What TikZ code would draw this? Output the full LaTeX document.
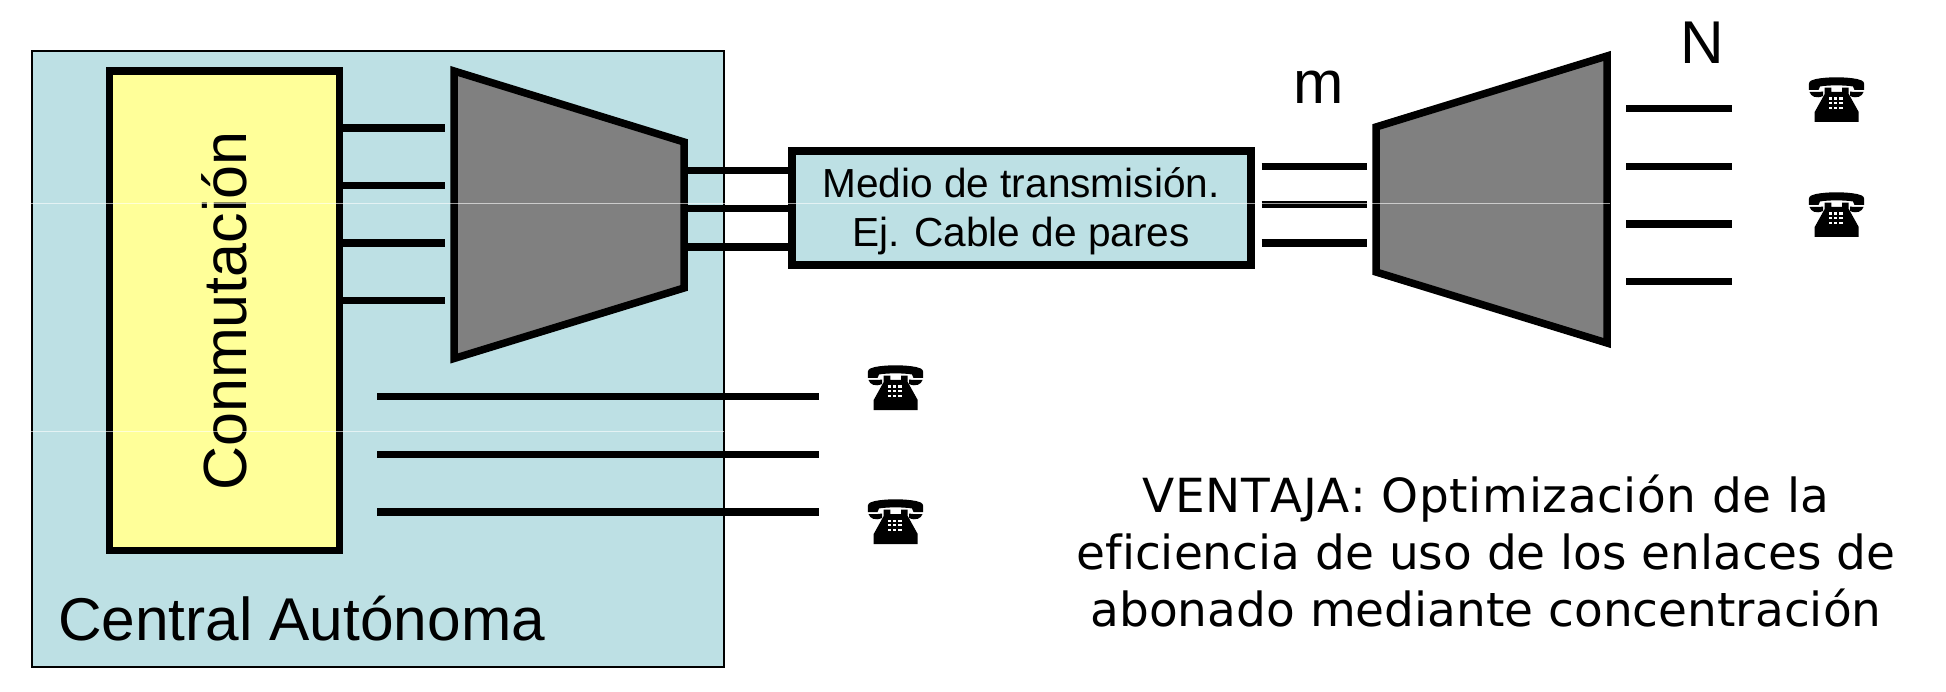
\documentclass[tikz,border=0pt]{standalone}
\usepackage{fontspec}
\setmainfont{Liberation Sans}
\newfontfamily\verdanalike[Ligatures=NoCommon,Kerning=Off]{DejaVu Sans}
\newfontfamily\verdanawide[Ligatures=NoCommon,Kerning=Off,LetterSpace=1.3]{DejaVu Sans}
\usetikzlibrary{calc}
\definecolor{paleblue}{HTML}{BDE0E4}
\definecolor{paleyellow}{HTML}{FFFF99}
\definecolor{concgray}{HTML}{808080}
\tikzset{
  x=1pt,y=-1pt,
  wire/.style={line width=7.5pt,black},
  conc/.style={line width=7.5pt,draw=black,fill=concgray,miter limit=10},
  seam/.style={line width=0.9pt,white,opacity=.6},
  labelA/.style={font=\fontsize{60.4}{60}\selectfont,inner sep=0pt,text=black},
  phone/.pic={
    \fill[black] (0.8,13) -- (0.8,7) .. controls (1,3.5) and (5,2.7) .. (8,2)
      .. controls (20,-0.3) and (37,-0.3) .. (49,2) .. controls (52,2.7) and (56,3.5) .. (56.2,7)
      -- (56.2,13) -- (46.5,13) -- (45,9.5) .. controls (37,8) and (20,8) .. (12,9.5) -- (10.5,13) -- cycle;
    \fill[black] (1.5,15) .. controls (3,19.5) and (8,22) .. (15,19) -- (15,14.5) -- (11,15) -- cycle;
    \fill[black] (55.5,15) .. controls (54,19.5) and (49,22) .. (42,19) -- (42,14.5) -- (46,15) -- cycle;
    \fill[black] (6.7,45) -- (6.7,35) -- (16.7,17) -- (16.7,10.7) -- (23.3,10.7) -- (23.3,15)
      -- (34,15) -- (34,10.7) -- (40.7,10.7) -- (40.7,17) -- (50.7,35) -- (50.7,45) -- cycle;
    \foreach \kx in {21,26.2,31.4} \foreach \ky in {20.5,25,30}
      \fill[white] (\kx,\ky) rectangle ++(3.2,2.4);
  }
}
\begin{document}
\begin{tikzpicture}
\useasboundingbox (0,0) rectangle (1946,692);
% central box
\node[draw=black,line width=2pt,fill=paleblue,minimum width=692pt,minimum height=615pt,inner sep=0pt,anchor=north west] (central) at (31,50.5) {};
\node[labelA,anchor=base west] (centralname) at (58,640) {Central Autónoma};
% switching block
\node[draw=black,line width=7.5pt,fill=paleyellow,minimum width=230pt,minimum height=479pt,inner sep=0pt,anchor=north west] (sw) at (105.5,67.5) {};
\node[labelA,rotate=90,anchor=base,font=\fontsize{61}{61}\selectfont] (swname) at (246,311) {Conmutación};
% coordinates of the concentrators
\coordinate (la) at (454,71);
\coordinate (lb) at (684,142);
\coordinate (lc) at (684,288);
\coordinate (ld) at (454,358.5);
\coordinate (ra) at (1376,127);
\coordinate (rb) at (1607,56);
\coordinate (rc) at (1607,343);
\coordinate (rd) at (1376,272);
% wires switch -> left concentrator
\foreach \n/\yy in {1/128,2/185.3,3/243.2,4/300.5}{
  \coordinate (a\n) at (445,\yy);
  \draw[wire] (sw.east |- a\n) -- (a\n);
}
% medium
\node[draw=black,line width=7.5pt,fill=paleblue,minimum width=459pt,minimum height=114pt,inner sep=0pt,anchor=north west] (med) at (788,147.5) {};
\node[font=\fontsize{40.6}{49}\selectfont,align=center,inner sep=0pt] (medname) at (1021,211.5) {Medio de transmisión.\\Ej. Cable de pares};
% wires left concentrator -> medium
\foreach \n/\yy in {1/170.3,2/208.3,3/247.2}{
  \coordinate (b\n) at (684,\yy);
  \draw[wire] (b\n) -- (med.west |- b\n);
}
% wires after medium
\foreach \n/\yy in {1/166.5,2/204.3,3/243.2}{
  \coordinate (c\n) at (1261.5,\yy);
  \coordinate (d\n) at (1367,\yy);
  \draw[wire] (c\n) -- (d\n);
}
% concentrators
\draw[conc] (la) -- (lb) -- (lc) -- (ld) -- cycle;
\draw[conc] (ra) -- (rb) -- (rc) -- (rd) -- cycle;
% subscriber wires right
\foreach \n/\yy in {1/108.6,2/166.5,3/224,4/281.5}{
  \coordinate (e\n) at (1626,\yy);
  \coordinate (f\n) at (1732,\yy);
  \draw[wire] (e\n) -- (f\n);
}
% subscriber wires bottom
\foreach \n/\yy in {1/396.7,2/454.5,3/512}{
  \coordinate (g\n) at (377,\yy);
  \coordinate (h\n) at (819,\yy);
  \draw[wire] (g\n) -- (h\n);
}
% labels
\node[labelA,anchor=base] (mlabel) at (1319,104) {m};
\node[labelA,anchor=base] (nlabel) at (1702,64) {N};
% phones
\pic at (867,365) {phone};
\pic at (867,499) {phone};
\pic at (1808,77) {phone};
\pic at (1808,192) {phone};
% advantage text
\node[font=\verdanalike\fontsize{47}{57}\selectfont,align=center,inner sep=0pt,anchor=base] (vent) at (1486,626) {{\verdanawide VENTAJA: Optimización de la}\\eficiencia de uso de los enlaces de\\abonado mediante concentración};
% faint seams in the reference
\coordinate (s1a) at (31,203);
\coordinate (s1b) at (1610,203);
\coordinate (s2a) at (31,431.6);
\coordinate (s2b) at (724,431.6);
\draw[seam] (s1a) -- (s1b);
\draw[seam] (s2a) -- (s2b);
\end{tikzpicture}
\end{document}
